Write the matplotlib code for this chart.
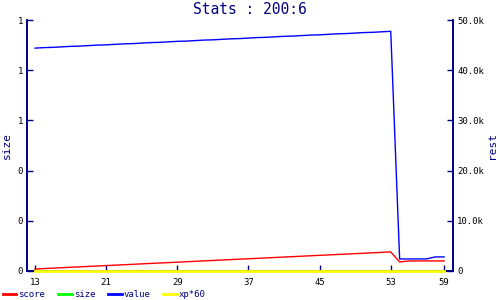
import matplotlib
matplotlib.use('Agg')
import matplotlib.pyplot as plt
from matplotlib.ticker import FuncFormatter

plt.rcParams['font.family'] = 'DejaVu Sans Mono'

NAVY = '#000080'

minutes = list(range(13, 60))
score = [400, 480, 570, 650, 740, 820, 910, 990, 1080, 1160,
         1250, 1330, 1420, 1500, 1590, 1670, 1760, 1840, 1930, 2010,
         2100, 2180, 2270, 2350, 2440, 2520, 2610, 2690, 2780, 2860,
         2950, 3030, 3120, 3200, 3290, 3370, 3460, 3540, 3630, 3710,
         3800, 1800, 2000, 2000, 2000, 2000, 2000]
size = [0] * 47
value = [44400, 44500, 44550, 44650, 44750, 44800, 44900, 45000, 45050, 45150,
         45250, 45300, 45400, 45500, 45550, 45650, 45750, 45800, 45900, 46000,
         46050, 46150, 46250, 46300, 46400, 46500, 46550, 46650, 46750, 46800,
         46900, 47000, 47050, 47150, 47250, 47300, 47400, 47500, 47550, 47650,
         47750, 2400, 2400, 2400, 2400, 2800, 2800]
xp60 = [0] * 47

x_ticks = [13, 21, 29, 37, 45, 53, 59]

fig = plt.figure(figsize=(5, 3), dpi=100)
ax = fig.add_axes([0.054, 0.0967, 0.852, 0.8366])
ax2 = ax.twinx()

l1, = ax2.plot(minutes, score, color='red', lw=1)
l2, = ax2.plot(minutes, size, color='#00ff00', lw=1.5, clip_on=False)
l3, = ax2.plot(minutes, value, color='blue', lw=1)
l4, = ax2.plot(minutes, xp60, color='yellow', lw=2, zorder=5,
               clip_on=False)

ax.set_xlim(12.1, 60)
ax.set_ylim(0, 1)
ax2.set_ylim(0, 50000)
ax.set_xticks(x_ticks)
ax.set_yticks([0, 0.2, 0.4, 0.6, 0.8, 1.0])
ax2.set_yticks([0, 10000, 20000, 30000, 40000, 50000])
ax.yaxis.set_major_formatter(FuncFormatter(lambda v, p: f'{v:.0f}'))
ax2.yaxis.set_major_formatter(
    FuncFormatter(lambda v, p: '0' if v == 0 else f'{v/1000:.1f}k'))

for a in (ax, ax2):
    a.spines['top'].set_visible(False)
    for s in ('left', 'right', 'bottom'):
        a.spines[s].set_color(NAVY)
        a.spines[s].set_linewidth(1.2)
    a.tick_params(direction='in', length=4, width=1, color=NAVY,
                  labelsize=6.5, labelcolor='black', pad=3)
ax.tick_params(axis='x', pad=5)

ax.set_ylabel('size', color=NAVY, fontsize=8, labelpad=4)
ax2.set_ylabel('rest', color=NAVY, fontsize=8, labelpad=2)
fig.suptitle('Stats : 200:6', color=NAVY, fontsize=10.5, y=0.995)

fig.legend([l1, l2, l3, l4], ['score', 'size', 'value', 'xp*60'],
           loc='lower left', bbox_to_anchor=(0.0, -0.005), ncol=4,
           frameon=False, fontsize=6.5, labelcolor=NAVY,
           borderaxespad=0, borderpad=0.3,
           handlelength=1.5, handletextpad=0.25, columnspacing=1.4)
for h in fig.legends[0].legend_handles:
    h.set_linewidth(2)

fig.savefig('out.png', dpi=100)
